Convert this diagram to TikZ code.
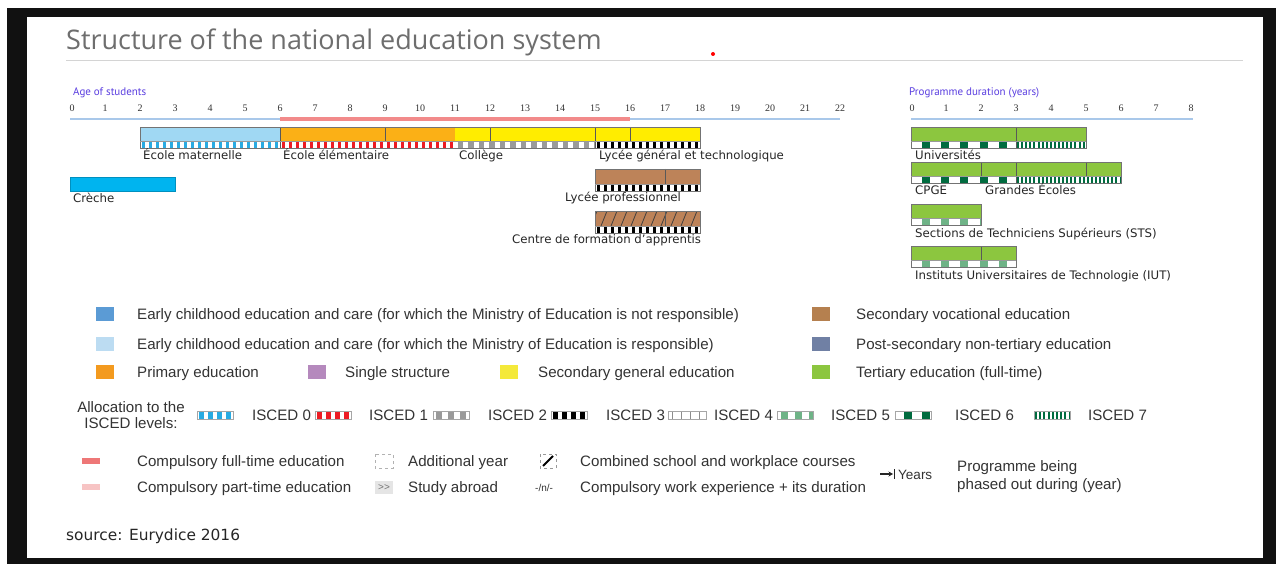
\documentclass[tikz,border=0pt]{standalone}
\usepackage{fontspec}
\setmainfont{Liberation Sans}
\newfontfamily\vfont{DejaVu Sans}
\newfontfamily\tfont{Open Sans}
\newfontfamily\nfont{Liberation Serif}
\newfontfamily\pfont{PT Sans}
\usetikzlibrary{arrows.meta}
\definecolor{frameblk}{HTML}{111111}
\definecolor{titlegray}{HTML}{6E6E6E}
\definecolor{rulegray}{HTML}{D4D4D4}
\definecolor{axispurple}{HTML}{5A3EE0}
\definecolor{axisblue}{HTML}{A9C8EA}
\definecolor{compred}{HTML}{F28A8A}
\definecolor{matblue}{HTML}{A0D8F3}
\definecolor{crecheblue}{HTML}{00B4EF}
\definecolor{prorange}{HTML}{FBB016}
\definecolor{secyellow}{HTML}{FFED00}
\definecolor{vocbrown}{HTML}{BD8359}
\definecolor{tergreen}{HTML}{8CC63F}
\definecolor{iscblue}{HTML}{29ABE2}
\definecolor{iscred}{HTML}{ED1C24}
\definecolor{iscgray}{HTML}{9A9A9A}
\definecolor{iscltgreen}{HTML}{6FB387}
\definecolor{iscdkgreen}{HTML}{006B3F}
\definecolor{legtxt}{HTML}{333333}
\definecolor{lgA}{HTML}{5B9BD5}
\definecolor{lgB}{HTML}{BCDCF2}
\definecolor{lgC}{HTML}{F39A1F}
\definecolor{lgD}{HTML}{B589BD}
\definecolor{lgE}{HTML}{F4E93A}
\definecolor{lgF}{HTML}{B5804F}
\definecolor{lgG}{HTML}{7080A4}
\definecolor{lgH}{HTML}{8CC63F}
\definecolor{lgI}{HTML}{EE7777}
\definecolor{lgJ}{HTML}{F7C4C4}
% pattern strip: x1 x2 ytop h period block color offset
\newcommand\patstrip[8]{%
  \begin{scope}
  \clip (#1,#3) rectangle (#2,#3+#4);
  \fill[white] (#1,#3) rectangle (#2,#3+#4);
  \pgfmathsetmacro\pxa{#1+#8}%
  \pgfmathsetmacro\pxb{\pxa+#5}%
  \foreach \xx in {\pxa,\pxb,...,#2} {\fill[#7] (\xx,#3) rectangle ++(#6,#4);}
  \end{scope}}
\newcommand\iscA[3]{\patstrip{#1}{#2}{#3}{7}{7}{3.8}{iscblue}{1.5}}
\newcommand\iscB[3]{\patstrip{#1}{#2}{#3}{7}{7}{3.8}{iscred}{1.5}}
\newcommand\iscC[3]{\patstrip{#1}{#2}{#3}{7}{10.5}{5.5}{iscgray}{2.5}}
\newcommand\iscD[3]{\patstrip{#1}{#2}{#3}{7}{7}{3.8}{black}{1.5}}
\newcommand\iscF[3]{\patstrip{#1}{#2}{#3}{7}{19.2}{8}{iscltgreen}{11}}
\newcommand\iscG[3]{\patstrip{#1}{#2}{#3}{7}{19.2}{8}{iscdkgreen}{11}}
\newcommand\iscH[3]{\patstrip{#1}{#2}{#3}{7}{4.1}{2}{iscdkgreen}{1}}
\newcommand\edubar[5]{\fill[#5] (#1,#3) rectangle (#2,#4);}
\newcommand\edudiv[3]{\draw[black!65, line width=0.8] (#1,#2) -- (#1,#3);}
\newcommand\eduframe[4]{\draw[black!55, line width=0.8] (#1,#3) rectangle (#2,#4); \draw[black!40, line width=0.5] (#1,#4-7) -- (#2,#4-7);}
\tikzset{
  lbl/.style={anchor=base west, inner sep=0, font=\fontsize{15.1}{17}\selectfont, text=legtxt},
  blbl/.style={anchor=base west, inner sep=0, font=\vfont\fontsize{11.75}{13}\selectfont, text=black!85},
  num/.style={anchor=base, inner sep=0, font=\nfont\fontsize{10}{12}\selectfont, text=black!80},
  axlbl/.style={anchor=base west, inner sep=0, font=\pfont\fontsize{11}{12}\selectfont, text=axispurple},
  swbox/.style={draw=black!35, line width=0.6},
}
\begin{document}
\begin{tikzpicture}[x=1pt,y=-1pt]
\useasboundingbox (0,0) rectangle (1276,564);
\fill[white] (0,0) rectangle (1276,564);
\fill[frameblk] (7,8) rectangle (1276,564);
\fill[white] (27,17) rectangle (1263,558);

% title
\node[anchor=base west, inner sep=0, font=\tfont\fontsize{27}{30}\selectfont, text=titlegray] (title) at (66,50) {Structure of the national education system};
\coordinate (ruleL) at (66,60); \coordinate (ruleR) at (1243,60);
\draw[rulegray, line width=0.9] (ruleL) -- (ruleR);
\fill[red] (713,54) circle (2);

% age axis
\node[axlbl] (agelbl) at (73,96) {Age of students};
\node[num] (age0) at (72,112) {0};
\foreach \a in {1,...,22} {\node[num] (age\a) at ({70+35*\a},112) {\a};}
\coordinate (ageL) at (70,119); \coordinate (ageR) at (840,119);
\coordinate (comp6) at (280,119); \coordinate (comp16) at (630,119);
\draw[axisblue, line width=1.8] (ageL) -- (ageR);
\draw[compred, line width=4] (comp6) -- (comp16);

% duration axis
\node[axlbl] (durlbl) at (909,96) {Programme duration (years)};
\node[num] (dur0) at (912,112) {0};
\foreach \d in {1,...,8} {\node[num] (dur\d) at ({911+35*\d},112) {\d};}
\coordinate (durL) at (911,119); \coordinate (durR) at (1193,119);
\draw[axisblue, line width=1.8] (durL) -- (durR);

% ---- top row
\edubar{140}{280}{127}{141}{matblue}
\edubar{280}{455}{127}{141}{prorange}
\edubar{455}{700}{127}{141}{secyellow}
\iscA{140}{280}{141}
\iscB{280}{455}{141}
\iscC{455}{595}{141}
\iscD{595}{700}{141}
\edudiv{280}{127}{148}
\edudiv{385}{127}{141}
\edudiv{490}{127}{141}
\edudiv{595}{127}{148}
\edudiv{630}{127}{141}
\eduframe{140}{700}{127}{148}
\node[blbl] (mat) at (143,160) {École maternelle};
\node[blbl] (elem) at (283,160) {École élémentaire};
\node[blbl] (coll) at (459,160) {Collège};
\node[blbl] (lyc) at (599,160) {Lycée général et technologique};

% creche
\fill[crecheblue] (70,177) rectangle (175,191);
\draw[crecheblue!80!black, line width=0.5] (70,177) rectangle (175,191);
\node[blbl] (creche) at (73,202) {Crèche};

% lycee professionnel
\edubar{595}{700}{169}{184}{vocbrown}
\iscD{595}{700}{184}
\edudiv{665}{169}{184}
\eduframe{595}{700}{169}{191}
\node[blbl] (lpro) at (565,201) {Lycée professionnel};

% CFA
\edubar{595}{700}{211}{226}{vocbrown}
\begin{scope}
\clip (595,211) rectangle (700,226);
\foreach \h in {597,607,...,717} {\draw[black!75, line width=0.8] (\h-6,226) -- (\h,211);}
\end{scope}
\iscD{595}{700}{226}
\edudiv{665}{211}{226}
\eduframe{595}{700}{211}{233}
\node[blbl] (cfa) at (512,243) {Centre de formation d’apprentis};

% ---- tertiary
% Universites
\edubar{911}{1086}{127}{141}{tergreen}
\iscG{911}{1016}{141}
\iscH{1016}{1086}{141}
\edudiv{1016}{127}{148}
\eduframe{911}{1086}{127}{148}
\node[blbl] (univ) at (915,160) {Universités};
% CPGE
\edubar{911}{1121}{162}{176}{tergreen}
\iscG{911}{1016}{176}
\iscH{1016}{1121}{176}
\edudiv{981}{162}{176}
\edudiv{1016}{162}{183}
\edudiv{1086}{162}{176}
\eduframe{911}{1121}{162}{183}
\node[blbl] (cpge) at (915,195) {CPGE};
\node[blbl] (ge) at (985,195) {Grandes Écoles};
% STS
\edubar{911}{981}{204}{218}{tergreen}
\iscF{911}{981}{218}
\eduframe{911}{981}{204}{225}
\node[blbl] (sts) at (915,237) {Sections de Techniciens Supérieurs (STS)};
% IUT
\edubar{911}{1016}{246}{260}{tergreen}
\iscF{911}{1016}{260}
\edudiv{981}{246}{260}
\eduframe{911}{1016}{246}{267}
\node[blbl] (iut) at (915,279) {Instituts Universitaires de Technologie (IUT)};

% ---- legend colours
\fill[lgA] (96,307) rectangle (114,321);
\node[lbl] (lA) at (137,319) {Early childhood education and care (for which the Ministry of Education is not responsible)};
\fill[lgB] (96,337) rectangle (114,351);
\node[lbl] (lB) at (137,349) {Early childhood education and care (for which the Ministry of Education is responsible)};
\fill[lgC] (96,365) rectangle (114,379);
\node[lbl] (lC) at (137,377) {Primary education};
\fill[lgD] (308,365) rectangle (326,379);
\node[lbl] (lD) at (345,377) {Single structure};
\fill[lgE] (500,365) rectangle (518,379);
\node[lbl] (lE) at (538,377) {Secondary general education};
\fill[lgF] (812,307) rectangle (830,321);
\node[lbl] (lF) at (856,319) {Secondary vocational education};
\fill[lgG] (812,337) rectangle (830,351);
\node[lbl] (lG) at (856,349) {Post-secondary non-tertiary education};
\fill[lgH] (812,365) rectangle (830,379);
\node[lbl] (lH) at (856,377) {Tertiary education (full-time)};

% ---- ISCED legend
\node[lbl, anchor=base] (alloc1) at (131,412) {Allocation to the};
\node[lbl, anchor=base] (alloc2) at (131,428) {ISCED levels:};
\patstrip{197}{233}{411}{8}{9}{5}{iscblue}{2}
\draw[swbox] (197,411) rectangle (233,419);
\node[lbl] (i0) at (252,420) {ISCED 0};
\patstrip{315}{351}{411}{8}{9}{5}{iscred}{2}
\draw[swbox] (315,411) rectangle (351,419);
\node[lbl] (i1) at (369,420) {ISCED 1};
\patstrip{433}{469}{411}{8}{12}{6}{iscgray}{3}
\draw[swbox] (433,411) rectangle (469,419);
\node[lbl] (i2) at (488,420) {ISCED 2};
\patstrip{551}{587}{411}{8}{9}{5}{black}{2}
\draw[swbox] (551,411) rectangle (587,419);
\node[lbl] (i3) at (606,420) {ISCED 3};
\patstrip{668}{706}{411}{8}{9}{1}{black!45}{4}
\draw[swbox] (668,411) rectangle (706,419);
\node[lbl] (i4) at (714,420) {ISCED 4};
\patstrip{777}{813}{411}{8}{14}{7}{iscltgreen}{4}
\draw[swbox] (777,411) rectangle (813,419);
\node[lbl] (i5) at (831,420) {ISCED 5};
\patstrip{895}{931}{411}{8}{18}{8}{iscdkgreen}{9}
\draw[swbox] (895,411) rectangle (931,419);
\node[lbl] (i6) at (955,420) {ISCED 6};
\patstrip{1034}{1070}{411}{8}{4.2}{2}{iscdkgreen}{1}
\draw[swbox] (1034,411) rectangle (1070,419);
\node[lbl] (i7) at (1088,420) {ISCED 7};

% ---- bottom legend
\fill[lgI] (82,458) rectangle (100,464);
\node[lbl] (cft) at (137,466) {Compulsory full-time education};
\fill[lgJ] (82,484) rectangle (100,490);
\node[lbl] (cpt) at (137,492) {Compulsory part-time education};
\draw[black!30, dashed, line width=0.7] (375,454) rectangle (393,468);
\node[lbl] (addy) at (408,466) {Additional year};
\fill[black!10] (375,481) rectangle (393,494);
\node[anchor=center, inner sep=0, font=\fontsize{10}{10}\selectfont, text=black!55] (sabr) at (384,487.5) {{>}{>}};
\node[lbl] (sab) at (408,492) {Study abroad};
\draw[black!40, dashed, line width=0.7] (540,454) rectangle (556,468);
\draw[black, line width=2] (543,466) -- (553,456);
\node[lbl] (comb) at (580,466) {Combined school and workplace courses};
\node[anchor=base west, inner sep=0, font=\fontsize{10}{12}\selectfont, text=legtxt] (nn) at (535,491) {-/n/-};
\node[lbl] (cwe) at (580,492) {Compulsory work experience + its duration};
\coordinate (arrA) at (880,474); \coordinate (arrB) at (893,474);
\draw[black!85, line width=1.2, -{Stealth[length=4.5pt,width=5pt]}] (arrA) -- (arrB);
\coordinate (barT) at (894.5,469); \coordinate (barB) at (894.5,479);
\draw[black!85, line width=1.2] (barT) -- (barB);
\node[anchor=base west, inner sep=0, font=\fontsize{13.5}{14}\selectfont, text=legtxt] (yrs) at (898,479) {Years};
\node[lbl] (pb1) at (957,471) {Programme being};
\node[lbl] (pb2) at (957,489) {phased out during (year)};

% source
\node[anchor=base west, inner sep=0, font=\vfont\fontsize{15.4}{17}\selectfont, text=black!85] (src) at (66,540) {source: Eurydice 2016};
\end{tikzpicture}
\end{document}
